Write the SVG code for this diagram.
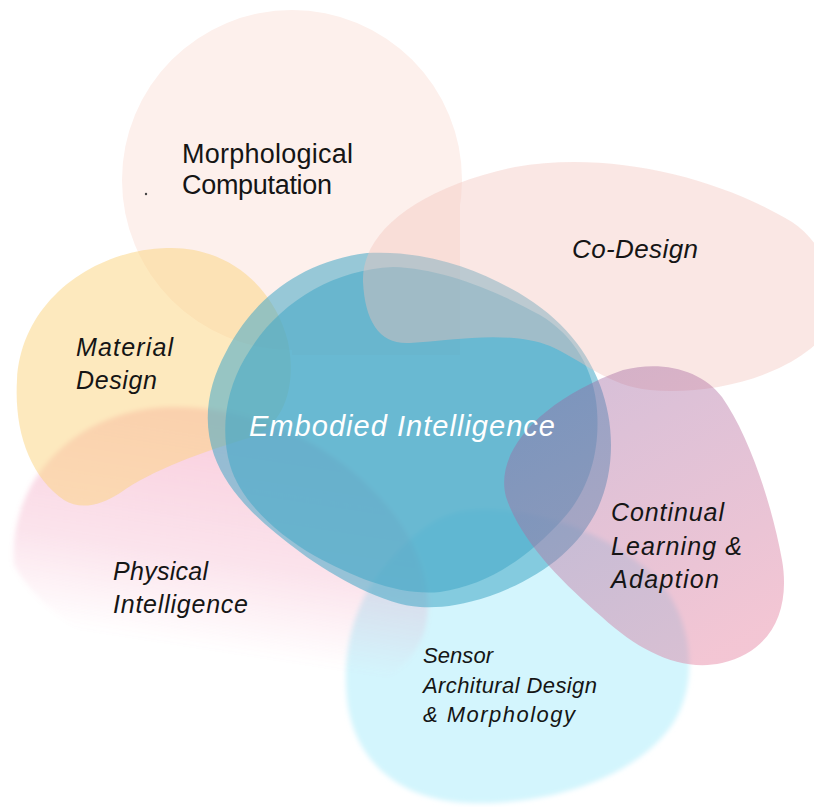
<svg xmlns="http://www.w3.org/2000/svg" width="814" height="807" viewBox="0 0 814 807">
  <defs>
    <style>
      .lbl { font-family: "Liberation Sans", Arial, sans-serif; fill: #151515; }
      .it { font-style: italic; }
      .center { fill: #ffffff; font-style: italic; }
      .blue { fill: #43a7c7; fill-opacity: 0.55; }
    </style>
    <filter id="soft" x="-10%" y="-10%" width="120%" height="120%">
      <feGaussianBlur stdDeviation="2.5"/>
    </filter>
    <linearGradient id="pinkFade" gradientUnits="userSpaceOnUse" x1="210" y1="420" x2="175" y2="645">
      <stop offset="0" stop-color="#f08cb0" stop-opacity="0.42"/>
      <stop offset="0.6" stop-color="#f08cb0" stop-opacity="0.24"/>
      <stop offset="1" stop-color="#f08cb0" stop-opacity="0"/>
    </linearGradient>
    <linearGradient id="learnGrad" gradientUnits="userSpaceOnUse" x1="600" y1="380" x2="740" y2="640">
      <stop offset="0" stop-color="#9d619d"/>
      <stop offset="1" stop-color="#e17093"/>
    </linearGradient>
  </defs>

  <!-- Morphological Computation: round blob, squared on its right side -->
  <g id="morphological-computation">
    <circle cx="292" cy="180" r="170" fill="#fdf0ec"/>
    <rect x="292" y="180" width="168" height="175" fill="#fdf0ec"/>
  </g>

  <!-- Sensor Architural Design & Morphology -->
  <g id="sensor-design">
    <path filter="url(#soft)" fill="#d3f5fd"
      d="M 470,510 C 525,505 600,528 650,572 C 692,610 702,680 672,725 C 632,782 540,806 468,803 C 398,800 354,760 347,700 C 341,640 360,592 390,560 C 415,532 440,512 470,510 Z"/>
  </g>

  <!-- Physical Intelligence: pink lobe fading out downwards -->
  <g id="physical-intelligence">
    <path filter="url(#soft)" fill="url(#pinkFade)"
      d="M 14,565 C 8,485 70,410 170,407 C 262,405 345,452 392,512 C 422,550 436,600 423,636 C 408,672 372,692 330,692 C 200,692 58,645 14,565 Z"/>
  </g>

  <!-- Material Design -->
  <g id="material-design">
    <path fill="#fbd37d" fill-opacity="0.5"
      d="M 167,248 C 232,246 276,292 288,342 C 297,385 284,425 252,437 C 202,452 152,470 120,493 C 100,506 80,510 64,500 C 30,476 14,432 17,380 C 21,302 92,250 167,248 Z"/>
  </g>

  <!-- Embodied Intelligence: two stacked translucent blobs -->
  <g id="embodied-intelligence">
    <path class="blue"
      d="M 367,253 C 420,250 470,266 510,288 C 555,312 585,345 600,385 C 615,425 615,470 598,508 C 578,550 540,578 490,596 C 460,606 440,608 420,607 C 385,605 335,578 300,552 C 262,524 228,494 214,455 C 202,420 208,385 226,352 C 250,305 295,262 367,253 Z"/>
    <path class="blue"
      d="M 393,267 C 440,268 495,290 540,315 C 575,336 594,370 597,410 C 600,450 590,490 562,520 C 530,555 490,585 440,592 C 400,596 355,578 315,556 C 275,533 240,500 230,465 C 220,430 226,390 245,358 C 275,305 330,270 393,267 Z"/>
  </g>

  <!-- Co-Design -->
  <g id="co-design">
    <path fill="#f2c3bb" fill-opacity="0.4"
      d="M 363,282 C 361,232 418,188 515,167 C 610,150 720,178 792,222 C 838,252 848,325 806,352 C 766,382 700,395 650,390 C 608,386 582,360 550,346 C 508,330 455,340 410,343 C 380,345 365,322 363,282 Z"/>
  </g>

  <!-- Continual Learning & Adaption -->
  <g id="continual-learning">
    <path fill="url(#learnGrad)" fill-opacity="0.4"
      d="M 623,370 C 662,360 702,370 722,397 C 748,434 771,500 782,560 C 791,612 770,652 722,663 C 682,672 640,652 602,617 C 562,582 521,542 506,497 C 494,452 540,400 623,370 Z"/>
  </g>

  <!-- labels, kept above every blob -->
  <g id="labels">
    <circle cx="146" cy="194" r="1.2" fill="#444"/>
    <text class="lbl" font-size="27" x="182" y="163" textLength="171">Morphological</text>
    <text class="lbl" font-size="27" x="182" y="194" textLength="150">Computation</text>

    <text class="lbl it" font-size="26" x="572" y="258" textLength="126">Co-Design</text>

    <text class="lbl it" font-size="25" x="76" y="356" textLength="97">Material</text>
    <text class="lbl it" font-size="25" x="76" y="389" textLength="81">Design</text>

    <text class="lbl center" font-size="29" x="249" y="436" textLength="306">Embodied Intelligence</text>

    <text class="lbl it" font-size="25" x="113" y="580" textLength="95">Physical</text>
    <text class="lbl it" font-size="25" x="113" y="613" textLength="135">Intelligence</text>

    <text class="lbl it" font-size="25" x="611" y="521" textLength="113">Continual</text>
    <text class="lbl it" font-size="25" x="611" y="555" textLength="131">Learning &amp;</text>
    <text class="lbl it" font-size="25" x="611" y="588" textLength="108">Adaption</text>

    <text class="lbl it" font-size="22" x="423" y="663" textLength="70">Sensor</text>
    <text class="lbl it" font-size="22" x="423" y="693" textLength="174">Architural Design</text>
    <text class="lbl it" font-size="22" x="423" y="722" textLength="152">&amp; Morphology</text>
  </g>
</svg>
